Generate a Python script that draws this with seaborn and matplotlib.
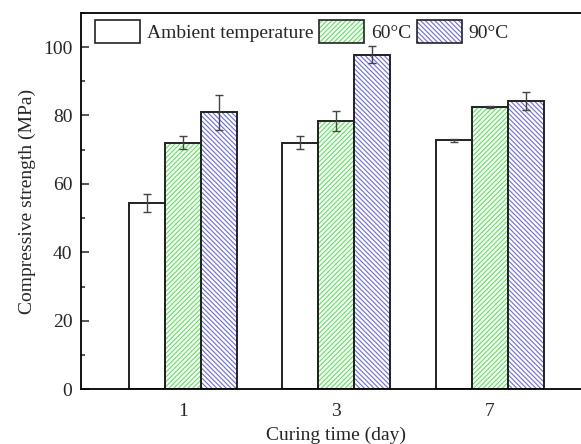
import matplotlib
matplotlib.use('Agg')
import matplotlib.pyplot as plt
from matplotlib.patches import Patch, Rectangle
from matplotlib.legend_handler import HandlerTuple
from matplotlib.ticker import MultipleLocator
import seaborn as sns
import pandas as pd
import numpy as np

days = ['1', '3', '7']
conditions = ['Ambient temperature', '60\u00b0C', '90\u00b0C']
ambient = [54.5, 72.1, 72.7]
c60 = [72.0, 78.4, 82.5]
c90 = [80.9, 97.8, 84.3]
ambient_err = [2.6, 1.9, 0.5]
c60_err = [1.9, 3.0, 0.3]
c90_err = [5.2, 2.6, 2.6]

sns.set_theme(style='ticks')
plt.rcParams['font.family'] = ['Liberation Serif', 'DejaVu Serif']
plt.rcParams['hatch.linewidth'] = 0.8

df = pd.DataFrame({
    'day': days * 3,
    'cond': [c for c in conditions for _ in days],
    'strength': ambient + c60 + c90,
})
errs = ambient_err + c60_err + c90_err

fig = plt.figure(figsize=(5.81, 4.44), dpi=100)
ax = fig.add_axes([0.1389, 0.1232, 0.880, 0.848])

sns.barplot(data=df, x='day', y='strength', hue='cond', order=days,
            hue_order=conditions, width=0.7035, errorbar=None,
            legend=False, ax=ax)

hatches = ['', '///////', '\\\\\\\\\\\\\\']
hatch_colors = ['white', '#55e855', '#6a6af5']
edge = '#222222'
bars = ax.patches[:9]
for i, p in enumerate(bars):
    k = i // 3
    p.set_facecolor('white')
    p.set_hatch(hatches[k])
    p.set_edgecolor(hatch_colors[k])
    p.set_linewidth(0)
    ax.add_patch(Rectangle((p.get_x(), p.get_y()), p.get_width(), p.get_height(),
                           fill=False, edgecolor=edge, linewidth=1.4, zorder=2))
    xc = p.get_x() + p.get_width() / 2
    ax.errorbar(xc, p.get_height(), yerr=errs[i], color='#444444',
                elinewidth=1.0, capsize=3, capthick=1.0, zorder=3)

handles = []
for k in range(3):
    h1 = Patch(facecolor='white', edgecolor=hatch_colors[k], hatch=hatches[k], linewidth=0)
    h2 = Patch(facecolor='none', edgecolor=edge, linewidth=1.2)
    handles.append((h1, h2))
ax.legend(handles, conditions, handler_map={tuple: HandlerTuple(ndivide=1, pad=0)},
          ncol=3, frameon=False, loc='upper left', bbox_to_anchor=(0.006, 1.012),
          fontsize=14, handlelength=2.3, handleheight=1.45, columnspacing=0.3,
          handletextpad=0.35, borderaxespad=0.2)

ax.set_xlim(-0.666, 2.666)
ax.set_ylim(0, 110)
ax.yaxis.set_major_locator(MultipleLocator(20))
ax.yaxis.set_minor_locator(MultipleLocator(10))
ax.set_yticks([0, 20, 40, 60, 80, 100])
ax.tick_params(axis='y', which='major', direction='in', length=5.5, width=1.1, labelsize=14, pad=6)
ax.tick_params(axis='y', which='minor', direction='in', length=2.8, width=1.1)
ax.tick_params(axis='x', length=0, labelsize=14, pad=10)
ax.set_xlabel('Curing time (day)', fontsize=14, labelpad=5)
ax.set_ylabel('Compressive strength (MPa)', fontsize=14, labelpad=5)
for s in ax.spines.values():
    s.set_linewidth(1.3)
    s.set_color('black')

fig.savefig('out.png', dpi=100)
